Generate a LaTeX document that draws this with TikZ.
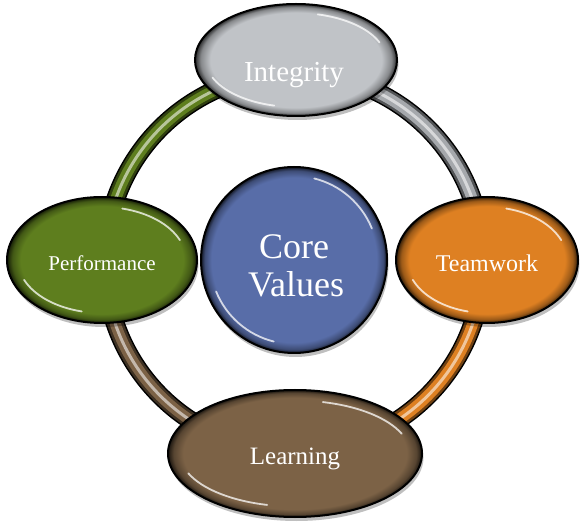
\documentclass[tikz,border=0pt]{standalone}
\usepackage{fontspec}
\setmainfont{Liberation Serif}
\usetikzlibrary{shapes.geometric,shadows,calc}
\definecolor{cI}{RGB}{192,195,199}
\definecolor{cP}{RGB}{94,126,30}
\definecolor{cC}{RGB}{88,109,168}
\definecolor{cT}{RGB}{222,128,34}
\definecolor{cL}{RGB}{124,98,70}
\definecolor{cIt}{RGB}{165,168,172}
\colorlet{cIa}{cI!70!black}\colorlet{cIb}{cI!22!black}
\colorlet{cPa}{cP!70!black}\colorlet{cPb}{cP!22!black}
\colorlet{cCa}{cC!70!black}\colorlet{cCb}{cC!22!black}
\colorlet{cTa}{cT!70!black}\colorlet{cTb}{cT!22!black}
\colorlet{cLa}{cL!70!black}\colorlet{cLb}{cL!22!black}
\pgfdeclareradialshading{shI}{\pgfpoint{0bp}{0bp}}{color(0bp)=(cI); color(21.2bp)=(cI); color(23.6bp)=(cIa); color(25bp)=(cIb); color(50bp)=(black)}
\pgfdeclareradialshading{shP}{\pgfpoint{0bp}{0bp}}{color(0bp)=(cP); color(21.4bp)=(cP); color(23.6bp)=(cPa); color(25bp)=(cPb); color(50bp)=(black)}
\pgfdeclareradialshading{shC}{\pgfpoint{0bp}{0bp}}{color(0bp)=(cC); color(22.2bp)=(cC); color(24bp)=(cCa); color(25bp)=(cCb); color(50bp)=(black)}
\pgfdeclareradialshading{shT}{\pgfpoint{0bp}{0bp}}{color(0bp)=(cT); color(21.4bp)=(cT); color(23.6bp)=(cTa); color(25bp)=(cTb); color(50bp)=(black)}
\pgfdeclareradialshading{shL}{\pgfpoint{0bp}{0bp}}{color(0bp)=(cL); color(22bp)=(cL); color(23.9bp)=(cLa); color(25bp)=(cLb); color(50bp)=(black)}
\tikzset{
  blob/.style={ellipse, draw=black, line width=2pt, inner sep=0pt,
    drop shadow={shadow xshift=1.5pt, shadow yshift=-4pt, opacity=0.25, fill=black}},
  lbl/.style={text=white, anchor=base, inner sep=0pt},
  tube/.style={line width=11pt, draw=#1,
    preaction={draw=black, line width=19pt},
    preaction={draw=#1!50!black, line width=16pt},
    postaction={draw=#1!45!white, line width=3pt}},
  hl/.style={white, line width=1.8pt, opacity=0.75, line cap=round}
}
\newcommand\glossarcs[3]{%
  \draw[hl] ($(#1.center)+(22:#2 and #3)$) arc[start angle=22, end angle=76, x radius=#2, y radius=#3];
  \draw[hl] ($(#1.center)+(202:#2 and #3)$) arc[start angle=202, end angle=256, x radius=#2, y radius=#3];}
\begin{document}
\begin{tikzpicture}[x=1pt,y=1pt]
\fill[white] (0,0) rectangle (586,530);
\path[use as bounding box] (0,0) rectangle (586,530);
% ring points
\coordinate (rT) at (294,457);
\coordinate (rL) at (105,268);
\coordinate (rR) at (483,268);
\coordinate (rB) at (294,79);
% ring tubes
\draw[tube=cP] (rL) to[bend left=45] (rT);
\draw[tube=cIt] (rT) to[bend left=45] (rR);
\draw[tube=cT] (rR) to[bend left=45] (rB);
\draw[tube=cL] (rB) to[bend left=45] (rL);
% shapes
\node[blob, shade, shading=shI, minimum width=202pt, minimum height=112pt] (I) at (296,470) {};
\node[blob, shade, shading=shP, minimum width=190pt, minimum height=126pt] (P) at (102,270) {};
\node[blob, shade, shading=shT, minimum width=182pt, minimum height=126pt] (T) at (487,270) {};
\node[blob, shade, shading=shL, minimum width=254pt, minimum height=127pt] (L) at (295,76.5) {};
\node[blob, shade, shading=shC, minimum width=186pt, minimum height=186pt] (C) at (294,270) {};
\glossarcs{I}{90pt}{47pt}
\glossarcs{P}{84pt}{53pt}
\glossarcs{T}{80pt}{53pt}
\glossarcs{L}{115pt}{53pt}
\glossarcs{C}{84pt}{84pt}
% texts
\node[lbl, font=\fontsize{29}{32}\selectfont] (tI) at (294,448) {Integrity};
\node[lbl, font=\fontsize{21}{24}\selectfont] (tP) at (102,259) {Performance};
\node[lbl, font=\fontsize{24}{27}\selectfont] (tT) at (487,258) {Teamwork};
\node[lbl, font=\fontsize{25}{28}\selectfont] (tL) at (295,65) {Learning};
\node[lbl, font=\fontsize{36}{38}\selectfont] (tC1) at (294,271) {Core};
\node[lbl, font=\fontsize{36}{38}\selectfont] (tC2) at (296,233) {Values};
\end{tikzpicture}
\end{document}
